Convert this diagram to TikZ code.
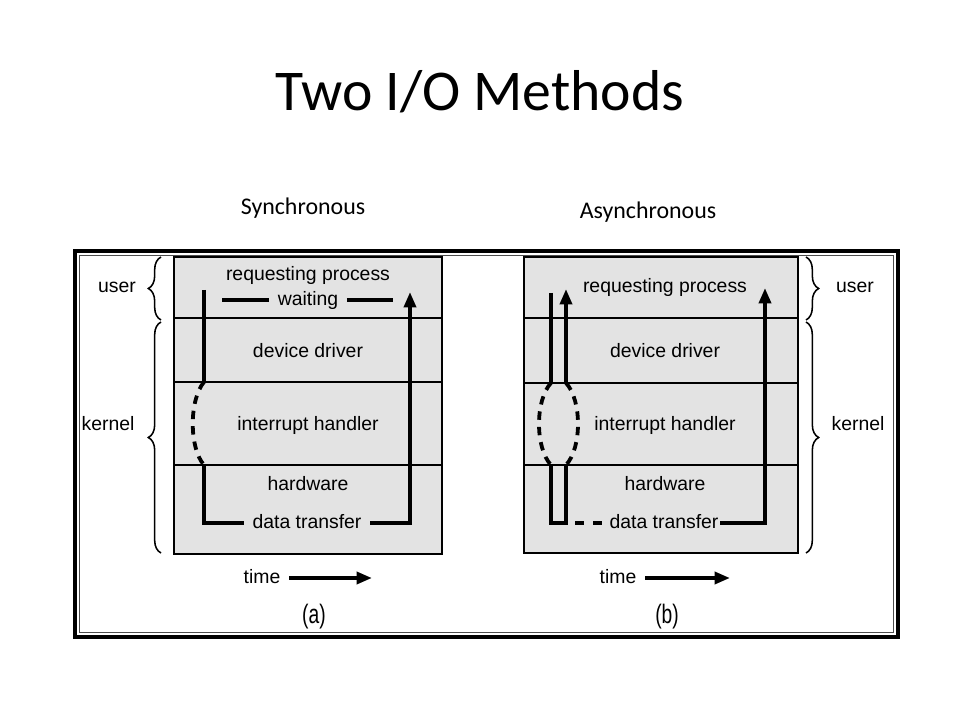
\documentclass[tikz,border=0pt]{standalone}
\usepackage{fontspec}
\setmainfont{Liberation Sans}
\newfontfamily\slidefont{Carlito}
\newfontfamily\narrowfont[FakeStretch=0.72]{Liberation Sans}
\usepackage{tikz}
\usetikzlibrary{arrows.meta,decorations.pathreplacing}
\definecolor{layergray}{RGB}{227,227,227}

\begin{document}
\begin{tikzpicture}[x=0.025cm,y=-0.025cm,
  lbl/.style={font=\fontsize{13.8}{16}\selectfont,inner sep=0pt,text height=0.72em,text depth=0pt},
  gap/.style={lbl,inner xsep=6pt},
  flow/.style={line width=2.7pt},
  flowarr/.style={flow,-{Triangle[length=11pt,width=8.5pt]}},
  intr/.style={flow,dash pattern=on 6pt off 5pt},
  layer/.style={fill=layergray,draw=black,line width=1.3pt},
  brc/.style={decorate,decoration={brace,amplitude=9pt},line width=1.1pt}]
\useasboundingbox (0,0) rectangle (960,720);
\node[font=\slidefont\fontsize{41}{48}\selectfont] (title) at (480,92) {Two I/O Methods};
\node[font=\slidefont\fontsize{17}{20}\selectfont] (sync) at (303,208) {Synchronous};
\node[font=\slidefont\fontsize{17}{20}\selectfont] (async) at (648,212) {Asynchronous};
% frame
\draw[line width=2.4pt] (75,251) rectangle (898,637);
\draw[line width=0.7pt,black!70] (79.5,255.5) rectangle (893.5,632.5);
% layers
\draw[layer] (174,257) rectangle (442,554);
\foreach \y in {318,382,465} \draw[line width=1pt] (174,\y) -- (442,\y);
\draw[layer] (524,257) rectangle (798,553);
\foreach \y in {318,383,465} \draw[line width=1pt] (524,\y) -- (798,\y);
% braces
\draw[brc] (161,320) -- (161,257);
\draw[brc] (161,553) -- (161,322);
\node[lbl] (userA) at (117,287) {user};
\node[lbl] (kernelA) at (108,425) {kernel};
\draw[brc] (806,257) -- (806,320);
\draw[brc] (806,322) -- (806,553);
\node[lbl] (userB) at (855,287) {user};
\node[lbl] (kernelB) at (858,425) {kernel};
% (a) synchronous
\node[lbl] (reqA) at (308,275) {requesting process};
\node[gap] (waitA) at (308,300) {waiting};
\node[lbl] (drvA) at (308,352) {device driver};
\node[lbl] (intA) at (308,425) {interrupt handler};
\node[lbl] (hwA) at (308,485) {hardware};
\node[gap] (dataA) at (307,523) {data transfer};
\coordinate (wA-l) at (222,300);
\coordinate (wA-r) at (393,300);
\coordinate (a-top) at (204,290);
\coordinate (a-in) at (204,382);
\coordinate (a-out) at (204,465);
\coordinate (a-bot) at (204,523);
\coordinate (a-tip) at (410,292);
\draw[flow] (wA-l) -- (waitA.west);
\draw[flow] (waitA.east) -- (wA-r);
\draw[flow] (a-top) -- (a-in);
\draw[intr] (a-in) .. controls (189,400) and (189,448) .. (a-out);
\draw[flow] (a-out) -- (a-bot) -- (dataA.west);
\draw[flowarr] (dataA.east) -| (a-tip);
% (b) asynchronous
\node[lbl] (reqB) at (665,287) {requesting process};
\node[lbl] (drvB) at (665,352) {device driver};
\node[lbl] (intB) at (665,425) {interrupt handler};
\node[lbl] (hwB) at (665,485) {hardware};
\node[lbl,inner xsep=1pt] (dataB) at (664,523) {data transfer};
\coordinate (b1-top) at (551,293);
\coordinate (b1-in) at (551,383);
\coordinate (b1-out) at (551,465);
\coordinate (b1-bot) at (551,523);
\coordinate (b2-tip) at (566,289);
\coordinate (b2-in) at (566,383);
\coordinate (b2-out) at (566,465);
\coordinate (b2-bot) at (566,523);
\coordinate (b-tip) at (765,288);
\draw[flow] (b1-top) -- (b1-in);
\draw[flowarr] (b2-in) -- (b2-tip);
\draw[intr] (b1-in) .. controls (535,400) and (535,448) .. (b1-out);
\draw[intr] (b2-in) .. controls (582,400) and (582,448) .. (b2-out);
\draw[flow] (b1-out) -- (b1-bot) -- (b2-bot) -- (b2-out);
\draw[flow,dash pattern=on 6.4pt off 6.4pt,dash phase=6.4pt] (b2-bot) -- (dataB.west);
\draw[flowarr] (dataB.east) -| (b-tip);
% time
\node[gap] (timeA) at (262,578) {time};
\coordinate (timeA-end) at (372,578);
\draw[flowarr] (timeA.east) -- (timeA-end);
\node[gap] (timeB) at (618,578) {time};
\coordinate (timeB-end) at (730,578);
\draw[flowarr] (timeB.east) -- (timeB-end);
\node[font=\narrowfont\fontsize{19}{22}\selectfont] (capA) at (314,617) {(a)};
\node[font=\narrowfont\fontsize{19}{22}\selectfont] (capB) at (667,617) {(b)};
\end{tikzpicture}
\end{document}
